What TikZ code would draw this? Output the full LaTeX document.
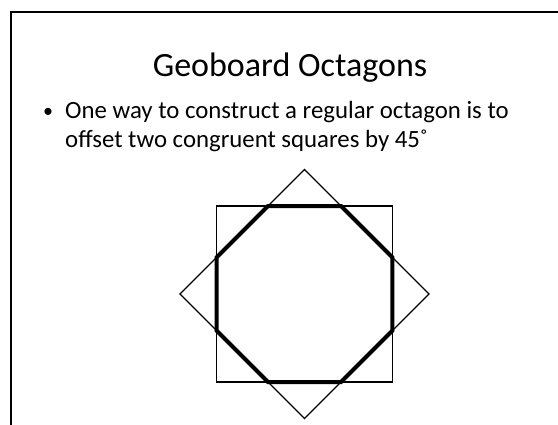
\documentclass[tikz,border=0pt]{standalone}
\usepackage{fontspec}
\setmainfont{Carlito}
\usetikzlibrary{positioning, calc}

\begin{document}
\begin{tikzpicture}[
    x=1pt, y=-1pt,
    frame/.style={line width=2pt},
    sqline/.style={line width=1.2pt, line join=miter},
    octline/.style={line width=4pt, line join=miter},
    heading/.style={anchor=base, inner sep=0pt, font=\fontsize{34}{40}\selectfont},
    bodytext/.style={anchor=base west, inner sep=0pt, font=\fontsize{24.8}{29}\selectfont}
]
\useasboundingbox (0,0) rectangle (558,424);

% Slide frame
\draw[frame] (11,440) |- (580,12);

% Text
\node[heading] (title) at (290,76) {Geoboard Octagons};
\node[bodytext, anchor=base, font=\fontsize{20}{24}\selectfont] (bullet) at (48,117) {•};
\node[bodytext] (line1) at (65,118) {One way to construct a regular octagon is to};
\node[bodytext] (line2) at (65,147) {offset two congruent squares by 45˚};

% Squares and octagon
\coordinate (c) at (304.5,294);
\draw[sqline] ($(c)+(45:124.45)$) \foreach \a in {135,225,315} { -- ($(c)+(\a:124.45)$) } -- cycle;
\draw[sqline] ($(c)+(0:124.45)$) \foreach \a in {90,180,270} { -- ($(c)+(\a:124.45)$) } -- cycle;
\draw[octline] ($(c)+(22.5:95.25)$) \foreach \a in {67.5,112.5,...,337.5} { -- ($(c)+(\a:95.25)$) } -- cycle;

\end{tikzpicture}
\end{document}
